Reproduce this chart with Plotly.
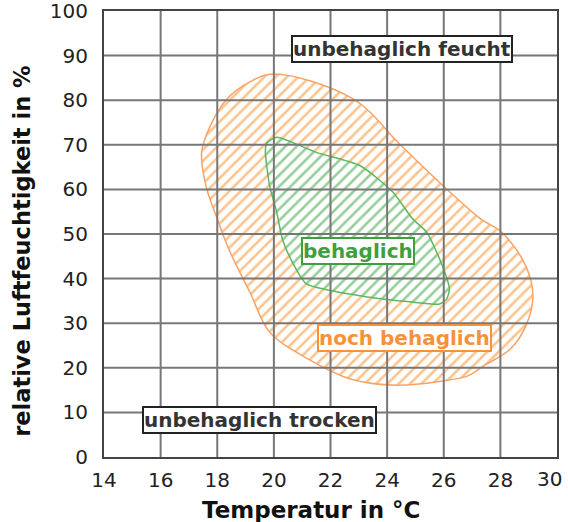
import plotly.graph_objects as go

# ---- data ----
x_ticks = [14, 16, 18, 20, 22, 24, 26, 28, 30]
x_ticktext = ["14", "16", "18", "20", "22", "24", "26", "28", "30"]
y_ticks = [0, 10, 20, 30, 40, 50, 60, 70, 80, 90, 100]

# "noch behaglich" zone outline (temperature °C, relative humidity %)
noch_t = [20.0, 22.8, 24.5, 26.1, 27.3, 28.05, 28.9, 29.15, 28.9, 28.35, 27.4, 26.85,
          25.9, 24.35, 22.7, 21.2, 19.85, 19.15, 18.45, 18.0, 17.6, 17.45, 17.75, 18.35, 19.15, 20.0]
noch_rh = [85.9, 80.3, 69.8, 60.1, 53.4, 50.4, 42.8, 36.1, 29.4, 24.2, 20.4, 18.2,
           17.0, 16.1, 17.5, 22.0, 28.0, 37.0, 46.0, 53.4, 60.8, 68.4, 74.2, 80.3, 84.1, 85.9]

# "behaglich" zone outline
beh_t = [20.1, 21.5, 23.05, 24.2, 24.9, 25.4, 25.95, 26.2, 26.1, 25.85, 24.8, 23.3,
         22.1, 21.15, 20.65, 20.3, 20.1, 19.85, 19.7, 19.75, 20.1]
beh_rh = [71.7, 68.3, 65.3, 59.4, 53.4, 50.4, 42.9, 37.7, 35.4, 34.3, 34.8, 35.9,
          37.2, 38.8, 43.7, 48.9, 54.9, 60.8, 68.4, 70.4, 71.7]

labels = ["unbehaglich feucht", "behaglich", "noch behaglich", "unbehaglich trocken"]
label_t = [24.53, 22.98, 24.61, 19.49]
label_rh = [91.5, 46.3, 26.7, 8.3]
label_colors = ["#333333", "#3f9f3f", "#f7913a", "#333333"]

x_title = "Temperatur in °C"
y_title = "relative Luftfeuchtigkeit in %"

ORANGE = "#f7891f"
GREEN = "#2e9e34"
TICKFONT = dict(family="DejaVu Sans", size=20, color="#222222")

fig = go.Figure()

fig.add_trace(go.Scatter(
    x=noch_t, y=noch_rh, mode="lines", fill="toself",
    fillcolor="rgba(0,0,0,0)",
    fillpattern=dict(shape="/", fgcolor=ORANGE, bgcolor="white", size=8, solidity=0.32),
    line=dict(color="#f9a266", width=1.5, shape="spline", smoothing=1.0),
    hoverinfo="skip", showlegend=False))

fig.add_trace(go.Scatter(
    x=beh_t, y=beh_rh, mode="lines", fill="toself",
    fillcolor="rgba(0,0,0,0)",
    fillpattern=dict(shape="/", fgcolor=GREEN, bgcolor="white", size=8, solidity=0.32),
    line=dict(color="#5cb85c", width=1.5, shape="spline", smoothing=0.6),
    hoverinfo="skip", showlegend=False))

# grid lines drawn above the hatching (as in the reference)
for t in x_ticks[1:-1]:
    fig.add_shape(type="line", xref="x", yref="paper", x0=t, x1=t, y0=0, y1=1,
                  line=dict(color="#777777", width=2), layer="above")
for r in y_ticks[1:-1]:
    fig.add_shape(type="line", xref="paper", yref="y", x0=0, x1=1, y0=r, y1=r,
                  line=dict(color="#777777", width=2), layer="above")

for txt, tx, ty, c in zip(labels, label_t, label_rh, label_colors):
    fig.add_annotation(x=tx, y=ty, text=f"<b>{txt}</b>", showarrow=False,
                       font=dict(family="DejaVu Sans", size=20, color=c),
                       bgcolor="white", bordercolor=c if c != "#333333" else "#222222",
                       borderwidth=2, borderpad=0)

# last x tick label sits slightly inside the image edge (as in the reference)
fig.add_annotation(xref="x", yref="paper", x=x_ticks[-1], y=0, yshift=-22, xshift=-8,
                   text=x_ticktext[-1], showarrow=False, xanchor="center", yanchor="middle",
                   font=TICKFONT)

# axis titles
fig.add_annotation(xref="paper", yref="paper", x=0.458, y=-0.119, text=f"<b>{x_title}</b>",
                   showarrow=False, xanchor="center", yanchor="middle",
                   font=dict(family="DejaVu Sans", size=23, color="#111111"))
fig.add_annotation(xref="paper", yref="paper", x=-0.181, y=0.46, text=f"<b>{y_title}</b>",
                   showarrow=False, xanchor="center", yanchor="middle", textangle=-90,
                   font=dict(family="DejaVu Sans", size=22.5, color="#111111"))

fig.update_layout(
    width=568, height=522,
    margin=dict(l=104, r=11, t=11, b=65),
    paper_bgcolor="white", plot_bgcolor="white",
    font=dict(family="DejaVu Sans", color="#222222"),
)
fig.update_xaxes(range=[14, 30], tickvals=x_ticks[:-1], ticktext=x_ticktext[:-1],
                 showgrid=False, zeroline=False,
                 showline=True, linecolor="#444444", linewidth=2, mirror=True,
                 ticks="", tickfont=TICKFONT, automargin=False,
                 ticklabeloverflow="allow", ticklabelstandoff=4)
fig.update_yaxes(range=[0, 100], tickvals=y_ticks, showgrid=False, zeroline=False,
                 showline=True, linecolor="#444444", linewidth=2, mirror=True,
                 ticks="", tickfont=TICKFONT, ticklabelstandoff=10,
                 automargin=False, ticklabeloverflow="allow")

fig.write_html("out.html", config={"displayModeBar": False},
               post_script="document.body.style.margin='0';document.body.style.overflow='hidden';")
